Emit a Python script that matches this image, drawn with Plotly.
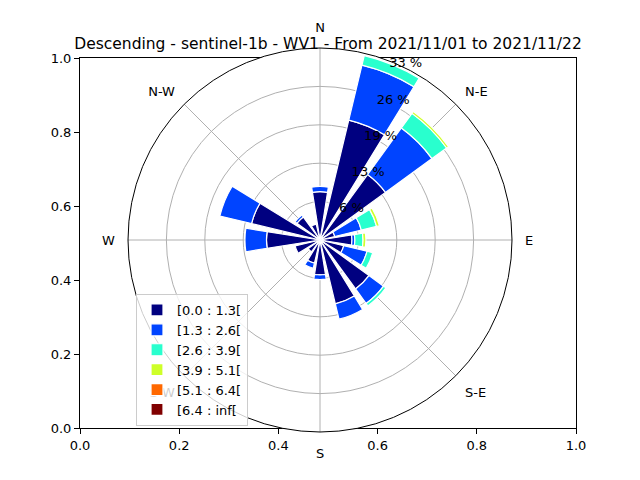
import plotly.graph_objects as go

directions = [0, 22.5, 45, 67.5, 90, 112.5, 135, 157.5, 180, 202.5, 225, 247.5, 270, 292.5, 315, 337.5]
bins = ["[0.0 : 1.3[", "[1.3 : 2.6[", "[2.6 : 3.9[", "[3.9 : 5.1[", "[5.1 : 6.4[", "[6.4 : inf["]
colors = ["#000080", "#0044ff", "#29ffce", "#ceff29", "#ff6800", "#800000"]

# frequency (%) per speed bin, per direction
freq = [
    [8.3, 21.2, 13.9, 2.6, 5.5, 4.2, 10.4, 11.3, 6.0, 4.1, 2.5, 4.4, 9.2, 12.1, 4.9, 2.8],
    [0.9, 9.7, 9.9, 4.7, 0.5, 4.1, 3.1, 2.7, 0.8, 0.9, 0.0, 0.0, 3.7, 5.6, 0.4, 0.0],
    [0.0, 1.7, 3.1, 2.7, 1.4, 1.0, 0.5, 0.0, 0.0, 0.0, 0.0, 0.0, 0.0, 0.0, 0.0, 0.0],
    [0.0, 0.0, 0.4, 0.5, 0.5, 0.0, 0.0, 0.0, 0.0, 0.0, 0.0, 0.0, 0.0, 0.0, 0.0, 0.0],
    [0.0] * 16,
    [0.0] * 16,
]
rticks = [6.6, 13.2, 19.8, 26.4, 33.0]
rlabels = ["6 %", "13 %", "19 %", "26 %", "33 %"]

fig = go.Figure()
for name, col, vals in zip(bins, colors, freq):
    fig.add_trace(go.Barpolar(r=vals, theta=directions, name=name, width=18,
                              marker=dict(color=col, line=dict(color="white", width=1.2))))

# empty cartesian frame behind the rose
fig.add_trace(go.Scatter(x=[None], y=[None], showlegend=False))

W, H = 536, 440  # plot area with margins below
fig.update_layout(
    width=640, height=480,
    margin=dict(l=52, r=52, t=12, b=28, autoexpand=False),
    plot_bgcolor="white", paper_bgcolor="white",
    font=dict(family="DejaVu Sans", size=13, color="black"),
    title=dict(text="Descending - sentinel-1b - WV1 - From 2021/11/01 to 2021/11/22",
               x=0.5, xanchor="center", y=1 - 36 / 480, yanchor="middle", font=dict(size=15.5)),
    xaxis=dict(range=[0, 1], dtick=0.2, tickformat=".1f", showgrid=False, zeroline=False,
               showline=True, mirror=True, linecolor="black", ticks="outside", tickcolor="black",
               automargin=False, domain=[20 / W, 516 / W]),
    yaxis=dict(range=[0, 1], dtick=0.2, tickformat=".1f", showgrid=False, zeroline=False,
               showline=True, mirror=True, linecolor="black", ticks="outside", tickcolor="black",
               automargin=False, domain=[32 / H, 402 / H]),
    polar=dict(
        domain=dict(x=[68 / W, 452 / W], y=[28 / H, 412 / H]),
        bgcolor="white",
        radialaxis=dict(range=[0, 33], tickvals=rticks, ticktext=rlabels, angle=71,
                        tickangle=71, showline=False, gridcolor="#b0b0b0", ticks="",
                        tickfont=dict(size=13)),
        angularaxis=dict(rotation=90, direction="clockwise", tickvals=[0, 45, 90, 135, 180, 225, 270, 315],
                         ticktext=["N", "N-E", "E", "S-E", "S", "S-W", "W", "N-W"],
                         gridcolor="#b0b0b0", linecolor="black",
                         ticks="outside", ticklen=10, tickcolor="rgba(0,0,0,0)"),
    ),
    legend=dict(x=76 / W, y=34 / H, xanchor="left", yanchor="bottom",
                bgcolor="rgba(255,255,255,0.8)", bordercolor="#cccccc", borderwidth=1,
                traceorder="normal", font=dict(size=13)),
)
fig.write_html("out.html")
